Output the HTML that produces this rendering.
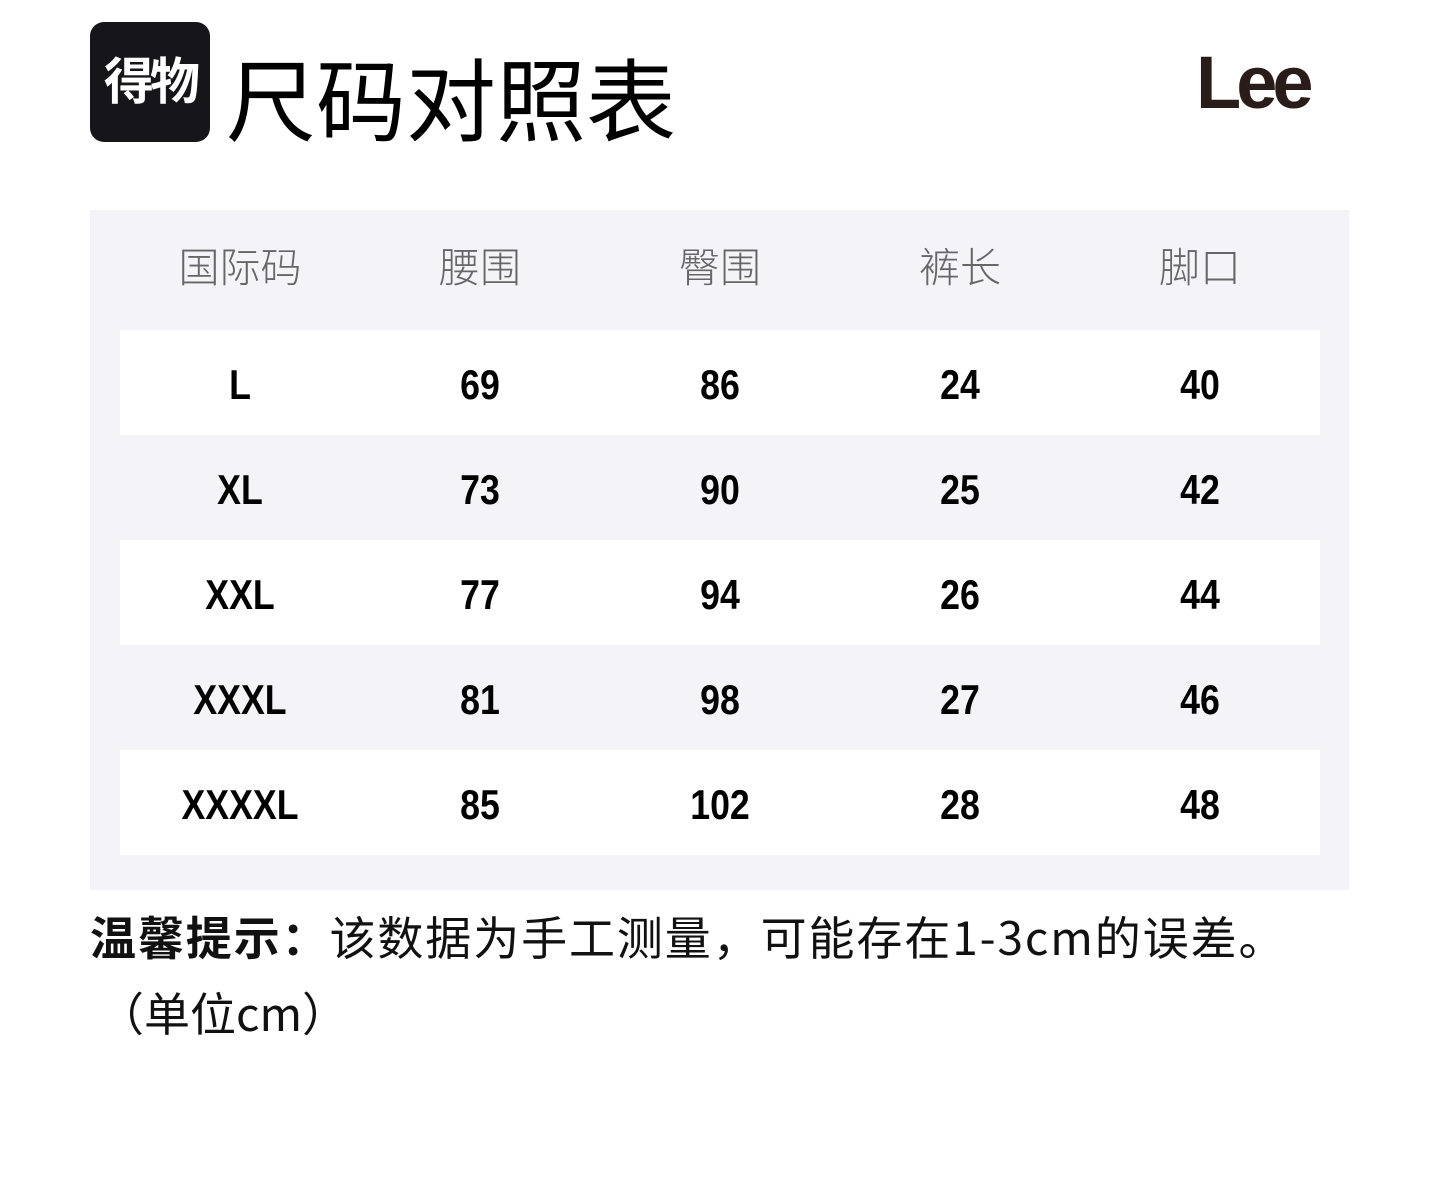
<!DOCTYPE html>
<html><head><meta charset="utf-8"><style>
body{margin:0;width:1443px;height:1185px;background:#fff;position:relative;overflow:hidden;font-family:"Liberation Sans","Noto Sans CJK SC",sans-serif;}
.logo{position:absolute;left:90px;top:22px;width:120px;height:120px;background:#16161a;border-radius:14px;color:#fff;font-size:50px;font-weight:bold;line-height:120px;text-align:center;letter-spacing:-4px;}
.title{position:absolute;left:226px;top:40px;font-size:90px;line-height:110px;color:#000;font-family:"Noto Sans CJK SC",sans-serif;}
.lee{position:absolute;left:1196px;top:38px;font-family:"Liberation Sans",sans-serif;font-weight:bold;font-size:74px;color:#2a1c18;letter-spacing:-5px;line-height:90px;}
.panel{position:absolute;left:90px;top:210px;width:1259px;height:680px;background:#f4f4f8;}
.row{position:absolute;left:30px;width:1200px;height:105px;}
.w{background:#fff;}
.c{position:absolute;width:240px;text-align:center;top:0;line-height:105px;}
.hd .c{font-size:41px;color:#666;font-family:"Noto Sans CJK SC",sans-serif;font-weight:300;}
.d .c{font-family:"Liberation Sans Narrow","Liberation Sans",sans-serif;font-weight:bold;font-size:42px;color:#000;top:2px;transform:scaleX(0.85);}
.note{position:absolute;left:90px;top:905px;font-size:46px;line-height:62px;color:#111;font-family:"Noto Sans CJK SC",sans-serif;letter-spacing:1.9px;}
.note2{position:absolute;left:98px;top:981px;font-size:46px;line-height:62px;color:#111;font-family:"Noto Sans CJK SC",sans-serif;}
</style></head><body>
<div class="logo">得物</div>
<div class="title">尺码对照表</div>
<div class="lee">Lee</div>
<div class="panel">
 <div class="row hd" style="top:2px"><div class="c" style="left:0">国际码</div><div class="c" style="left:240px">腰围</div><div class="c" style="left:480px">臀围</div><div class="c" style="left:720px">裤长</div><div class="c" style="left:960px">脚口</div></div>
 <div class="row d w" style="top:120px"><div class="c" style="left:0">L</div><div class="c" style="left:240px">69</div><div class="c" style="left:480px">86</div><div class="c" style="left:720px">24</div><div class="c" style="left:960px">40</div></div>
 <div class="row d" style="top:225px"><div class="c" style="left:0">XL</div><div class="c" style="left:240px">73</div><div class="c" style="left:480px">90</div><div class="c" style="left:720px">25</div><div class="c" style="left:960px">42</div></div>
 <div class="row d w" style="top:330px"><div class="c" style="left:0">XXL</div><div class="c" style="left:240px">77</div><div class="c" style="left:480px">94</div><div class="c" style="left:720px">26</div><div class="c" style="left:960px">44</div></div>
 <div class="row d" style="top:435px"><div class="c" style="left:0">XXXL</div><div class="c" style="left:240px">81</div><div class="c" style="left:480px">98</div><div class="c" style="left:720px">27</div><div class="c" style="left:960px">46</div></div>
 <div class="row d w" style="top:540px"><div class="c" style="left:0">XXXXL</div><div class="c" style="left:240px">85</div><div class="c" style="left:480px">102</div><div class="c" style="left:720px">28</div><div class="c" style="left:960px">48</div></div>
</div>
<div class="note"><b>温馨提示：</b>该数据为手工测量，可能存在1-3cm的误差。</div>
<div class="note2">（单位cm）</div>
</body></html>
